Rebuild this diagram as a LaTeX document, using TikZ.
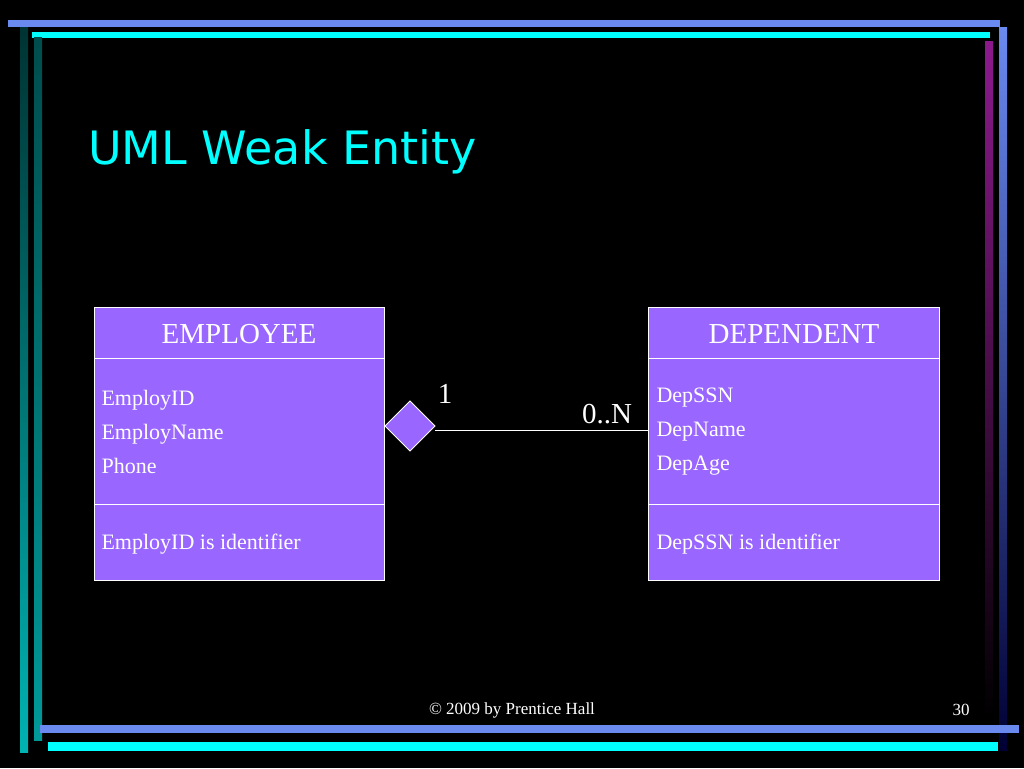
\documentclass[tikz,border=0pt]{standalone}
\usepackage{fontspec}
\setmainfont{Liberation Serif}
\newfontfamily\titlefont{DejaVu Sans}
\definecolor{boxfill}{HTML}{9966FF}
\definecolor{barblue}{HTML}{6A8AF0}
\definecolor{barcyan}{HTML}{00FFFF}
\begin{document}
\begin{tikzpicture}[x=1pt,y=-1pt,
  ent/.style={draw=white,fill=boxfill,line width=0.8pt},
  attr/.style={anchor=west,text=white,font=\fontsize{22}{34}\selectfont,align=left},
  hdr/.style={text=white,font=\fontsize{29}{32}\selectfont},
  mult/.style={text=white,font=\fontsize{29}{32}\selectfont}]
\fill[black] (0,0) rectangle (1024,768);
\useasboundingbox (0,0) rectangle (1024,768);
% frame bars
\fill[barblue] (8,20) rectangle (1000,27);
\fill[barcyan] (32,32) rectangle (990,38);
\shade[top color=black!80!cyan, bottom color=cyan!70!black] (20,28) rectangle (28,752);
\shade[top color=black!70!cyan, bottom color=cyan!60!black] (34,38) rectangle (42,740);
\shade[top color=violet!90!white, bottom color=black] (985,42) rectangle (993,720);
\shade[top color=barblue, bottom color=black!80!blue] (999,28) rectangle (1007,750);
\fill[barblue] (40,725) rectangle (1019,733);
\fill[barcyan] (48,742) rectangle (998,751);
% title
\node[anchor=base west,text=barcyan,font=\titlefont\fontsize{46}{50}\selectfont,inner sep=0] (title) at (88,164) {UML Weak Entity};
% employee
\draw[ent] (94,307) rectangle (384,580);
\draw[white,line width=0.8pt] (94,358) -- (384,358) (94,504) -- (384,504);
\node[hdr] (emph) at (239,334) {EMPLOYEE};
\node[attr] (empa) at (98,432) {EmployID\\EmployName\\Phone};
\node[attr] (empi) at (98,544) {EmployID is identifier};
% dependent
\draw[ent] (648,307) rectangle (939,580);
\draw[white,line width=0.8pt] (648,358) -- (939,358) (648,504) -- (939,504);
\node[hdr] (deph) at (794,334) {DEPENDENT};
\node[attr] (depa) at (653,432) {DepSSN\\DepName\\DepAge};
\node[attr] (depi) at (653,544) {DepSSN is identifier};
% diamond
\coordinate (dl) at (385,426);
\coordinate (dt) at (410,401);
\coordinate (dr) at (435,426);
\coordinate (db) at (410,451);
\draw[ent] (dl) -- (dt) -- (dr) -- (db) -- cycle;
\coordinate (de) at (648,430);
\coordinate (ds) at (435,430);
\draw[white,line width=0.8pt] (ds) -- (de);
\node[mult] (m1) at (445,394) {1};
\node[mult] (m2) at (607,414) {0..N};
% footer
\node[text=white,font=\fontsize{17}{20}\selectfont] (copy) at (512,710) {\textcopyright\ 2009 by Prentice Hall};
\node[text=white,font=\fontsize{17}{20}\selectfont] (pg) at (961,710) {30};
\end{tikzpicture}
\end{document}
